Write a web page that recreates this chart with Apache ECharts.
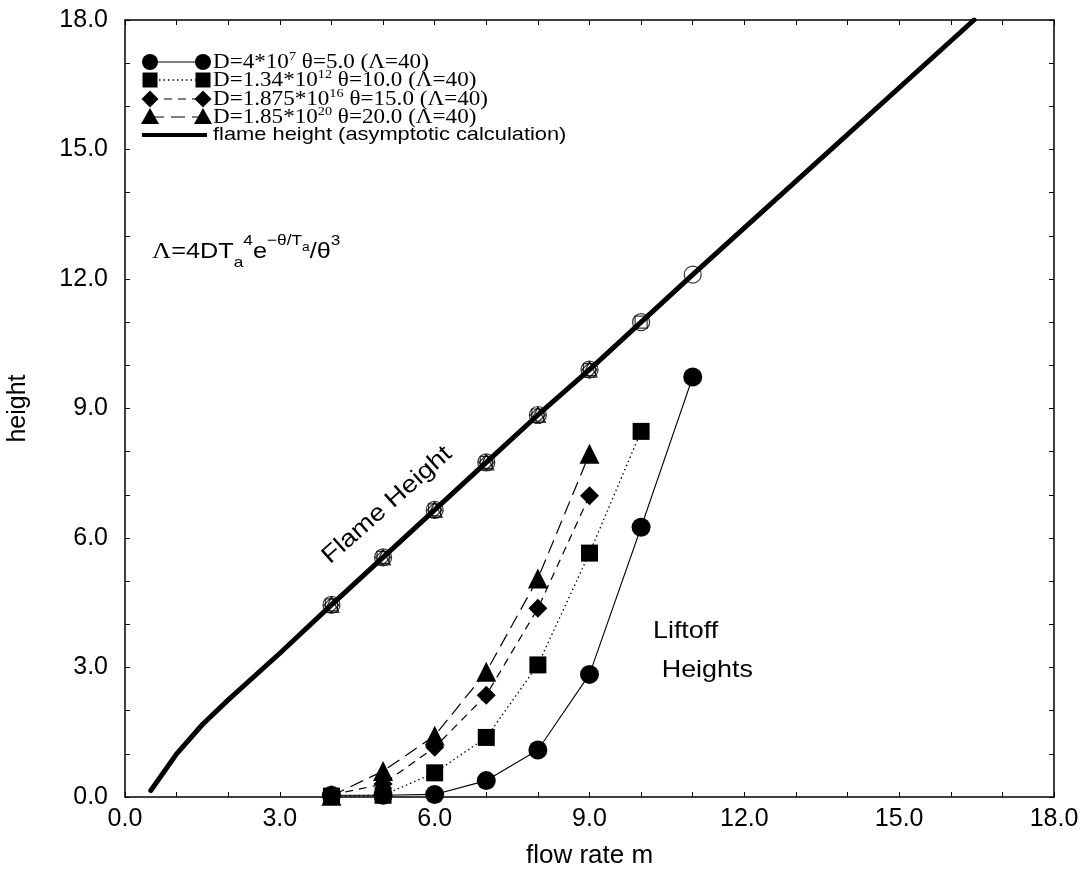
<!DOCTYPE html>
<html>
<head>
<meta charset="utf-8">
<script src="https://cdn.jsdelivr.net/npm/echarts@6/dist/echarts.min.js"></script>
<style>
  html, body { margin: 0; padding: 0; background: #fff; }
  #chart { width: 1087px; height: 875px; }
</style>
</head>
<body>
<div id="chart"></div>
<script>
// Flow rates at which the liftoff / flame heights were computed
const flowRates = [4, 5, 6, 7, 8, 9, 10, 11];

// Asymptotic flame-height curve
const flameCurveX = [0.5, 1.0, 1.5, 2.0, 3.0, 4.0, 5.0, 6.0, 7.0, 8.0, 9.0, 10.0, 11.0, 16.45];
const flameCurveY = [0.15, 1.0, 1.68, 2.25, 3.33, 4.45, 5.55, 6.65, 7.75, 8.85, 9.9, 11.0, 12.1, 18.0];

// Computed flame heights for each parameter set (open markers)
const flameTheta5  = [4.45, 5.55, 6.65, 7.75, 8.85, 9.9, 11.0, 12.1];
const flameTheta10 = [4.45, 5.55, 6.65, 7.75, 8.85, 9.9, 11.0];
const flameTheta15 = [4.45, 5.55, 6.65, 7.75, 8.85, 9.9];
const flameTheta20 = [4.45, 5.55, 6.65, 7.75, 8.85, 9.9];

// Liftoff heights for each parameter set (filled markers)
const liftTheta5  = [0.04, 0.04, 0.06, 0.38, 1.09, 2.84, 6.25, 9.73];
const liftTheta10 = [0.02, 0.04, 0.56, 1.38, 3.06, 5.65, 8.47];
const liftTheta15 = [0.05, 0.30, 1.15, 2.36, 4.37, 6.98];
const liftTheta20 = [0.03, 0.60, 1.42, 2.90, 5.06, 7.95];

// Axis tick values and their labels
const tickValues = [0, 3, 6, 9, 12, 15, 18];
const tickLabels = ['0.0', '3.0', '6.0', '9.0', '12.0', '15.0', '18.0'];

// Legend text pieces
const legendMantissa = ['4*10', '1.34*10', '1.875*10', '1.85*10'];
const legendExponent = ['7', '12', '16', '20'];
const legendTheta = ['5.0', '10.0', '15.0', '20.0'];
const legendLambda = '40';

const SANS = '"Liberation Sans", Arial, Helvetica, sans-serif';
const SERIF = '"Liberation Serif", "Times New Roman", serif';

const pairs = (xs, ys) => ys.map((y, i) => [xs[i], y]);
const tickFormatter = v => {
  const i = tickValues.indexOf(Math.round(v * 1000) / 1000);
  return i >= 0 ? tickLabels[i] : '';
};

const chart = echarts.init(document.getElementById('chart'), null, { renderer: 'canvas' });

const axisCommon = {
  type: 'value', min: 0, max: 18, interval: 3,
  axisLine: { show: true, onZero: false, lineStyle: { color: '#000', width: 1.5 } },
  axisTick: { show: true, inside: true, length: 5, lineStyle: { color: '#000', width: 1 } },
  minorTick: { show: true, splitNumber: 3, length: 5, lineStyle: { color: '#000', width: 1 } },
  splitLine: { show: false },
  minorSplitLine: { show: false }
};

const labelStyle = { color: '#000', fontFamily: SANS, fontSize: 25 };

const liftoffStyles = [
  { data: liftTheta5,  symbol: 'circle',   size: 19, dash: 'solid',  width: 1.1 },
  { data: liftTheta10, symbol: 'rect',     size: 17, dash: [1.5, 3], width: 1.3 },
  { data: liftTheta15, symbol: 'diamond',  size: 19, dash: [8, 6],   width: 1.2 },
  { data: liftTheta20, symbol: 'triangle', size: 20, dash: [14, 7],  width: 1.2 }
];

const flameMarkerSets = [
  { data: flameTheta5,  symbol: 'circle',   size: 17 },
  { data: flameTheta10, symbol: 'rect',     size: 12 },
  { data: flameTheta15, symbol: 'diamond',  size: 15 },
  { data: flameTheta20, symbol: 'triangle', size: 15 }
];

const series = [];
liftoffStyles.forEach(s => {
  series.push({
    type: 'line',
    data: pairs(flowRates, s.data),
    symbol: s.symbol,
    symbolSize: s.size,
    showSymbol: true,
    itemStyle: { color: '#000' },
    lineStyle: { color: '#000', width: s.width, type: s.dash },
    animation: false,
    z: 3
  });
});

series.push({
  type: 'line',
  data: pairs(flameCurveX, flameCurveY),
  showSymbol: false,
  symbol: 'none',
  lineStyle: { color: '#000', width: 5, cap: 'round', join: 'round' },
  animation: false,
  z: 2
});

flameMarkerSets.forEach(s => {
  series.push({
    type: 'scatter',
    data: pairs(flowRates, s.data),
    symbol: s.symbol,
    symbolSize: s.size,
    itemStyle: { color: 'rgba(0,0,0,0)', borderColor: '#000', borderWidth: 1.2 },
    animation: false,
    z: 4
  });
});

chart.setOption({
  backgroundColor: '#fff',
  animation: false,
  grid: { left: 125, right: 33, top: 20, bottom: 78, containLabel: false, outerBoundsMode: 'none' },
  xAxis: [
    Object.assign({}, axisCommon, {
      position: 'bottom',
      axisLabel: Object.assign({ margin: 10, formatter: tickFormatter }, labelStyle),
      name: 'flow rate m', nameLocation: 'middle', nameGap: 46,
      nameTextStyle: { color: '#000', fontFamily: SANS, fontSize: 26 }
    }),
    Object.assign({}, axisCommon, { position: 'top', axisLabel: { show: false } })
  ],
  yAxis: [
    Object.assign({}, axisCommon, {
      position: 'left',
      axisLabel: Object.assign({ margin: 17, formatter: tickFormatter }, labelStyle),
      name: 'height', nameLocation: 'middle', nameGap: 94, nameRotate: 90,
      nameTextStyle: { color: '#000', fontFamily: SANS, fontSize: 25 }
    }),
    Object.assign({}, axisCommon, { position: 'right', axisLabel: { show: false } })
  ],
  series: series.map(s => Object.assign({ xAxisIndex: 0, yAxisIndex: 0 }, s))
});

// ---- Legend (drawn as graphics) ----
const graphics = [];
const legendLeft = 150, legendRight = 203, legendTextX = 213;
const legendRowsY = [62, 80, 99, 117, 135];
const markerShape = (symbol, cx, cy) => {
  if (symbol === 'circle') return { type: 'circle', shape: { cx, cy, r: 8 }, style: { fill: '#000' } };
  if (symbol === 'rect') return { type: 'rect', shape: { x: cx - 7.5, y: cy - 7.5, width: 15, height: 15 }, style: { fill: '#000' } };
  if (symbol === 'diamond') return { type: 'polygon', shape: { points: [[cx, cy - 8.5], [cx + 8.5, cy], [cx, cy + 8.5], [cx - 8.5, cy]] }, style: { fill: '#000' } };
  return { type: 'polygon', shape: { points: [[cx, cy - 9], [cx + 9, cy + 7], [cx - 9, cy + 7]] }, style: { fill: '#000' } };
};
liftoffStyles.forEach((s, i) => {
  const y = legendRowsY[i];
  graphics.push({
    type: 'line', shape: { x1: legendLeft, y1: y, x2: legendRight, y2: y },
    style: { stroke: '#000', lineWidth: s.width, lineDash: s.dash === 'solid' ? null : s.dash }
  });
  graphics.push(markerShape(s.symbol, legendLeft, y));
  graphics.push(markerShape(s.symbol, legendRight, y));
  graphics.push({
    type: 'text',
    x: legendTextX, y: y, scaleX: 1.1,
    style: {
      x: 0, y: 0, verticalAlign: 'middle', align: 'left',
      text: '{b|D=' + legendMantissa[i] + '}{s|' + legendExponent[i] + '}{b| θ=' + legendTheta[i] + ' (Λ=' + legendLambda + ')}',
      rich: {
        b: { fontFamily: SERIF, fontSize: 21, lineHeight: 22, fill: '#000' },
        s: { fontFamily: SERIF, fontSize: 13, lineHeight: 12, height: 12, verticalAlign: 'top', fill: '#000' }
      }
    }
  });
});
graphics.push({
  type: 'line', shape: { x1: 142, y1: legendRowsY[4], x2: 207, y2: legendRowsY[4] },
  style: { stroke: '#000', lineWidth: 4 }
});
graphics.push({
  type: 'text',
  x: legendTextX, y: legendRowsY[4], scaleX: 1.15,
  style: {
    x: 0, y: 0, verticalAlign: 'middle', align: 'left',
    text: 'flame height (asymptotic calculation)',
    font: '19px ' + SANS, fill: '#000'
  }
});

// ---- Definition of Λ ----
graphics.push({
  type: 'text',
  x: 152, y: 234, scaleX: 1.15,
  style: {
    x: 0, y: 0, verticalAlign: 'top', align: 'left',
    text: '{L|Λ}{b|=4DT}{sub|a}{sup|4}{b|e}{sup|−θ/T}{ssub|a}{b|/θ}{sup|3}',
    rich: {
      L:   { fontFamily: SERIF, fontSize: 23, lineHeight: 36, fill: '#000' },
      b:   { fontFamily: SANS, fontSize: 22, lineHeight: 36, fill: '#000' },
      sub: { fontFamily: SANS, fontSize: 15, height: 14, lineHeight: 14, verticalAlign: 'bottom', fill: '#000' },
      sup: { fontFamily: SANS, fontSize: 15, height: 14, lineHeight: 14, verticalAlign: 'top', fill: '#000' },
      ssub:{ fontFamily: SANS, fontSize: 12, height: 27, lineHeight: 27, verticalAlign: 'top', fill: '#000' }
    }
  }
});

// ---- Curve annotations anchored in data space ----
const toPx = p => chart.convertToPixel({ gridIndex: 0 }, p);
const flameLabelPos = toPx([5.08, 6.76]);
graphics.push({
  type: 'text',
  x: flameLabelPos[0], y: flameLabelPos[1],
  rotation: 41.5 * Math.PI / 180, scaleX: 1.15,
  style: { x: 0, y: 0, text: 'Flame Height', font: '24px ' + SANS, fill: '#000', align: 'center', verticalAlign: 'middle' }
});
const liftoffPos = toPx([10.23, 4.12]);
const heightsPos = toPx([10.4, 3.2]);
graphics.push({
  type: 'text', x: liftoffPos[0], y: liftoffPos[1], scaleX: 1.12,
  style: { x: 0, y: 0, text: 'Liftoff', font: '24px ' + SANS, fill: '#000', align: 'left', verticalAlign: 'top' }
});
graphics.push({
  type: 'text', x: heightsPos[0], y: heightsPos[1], scaleX: 1.12,
  style: { x: 0, y: 0, text: 'Heights', font: '24px ' + SANS, fill: '#000', align: 'left', verticalAlign: 'top' }
});

chart.setOption({ graphic: { elements: graphics } });
</script>
</body>
</html>
